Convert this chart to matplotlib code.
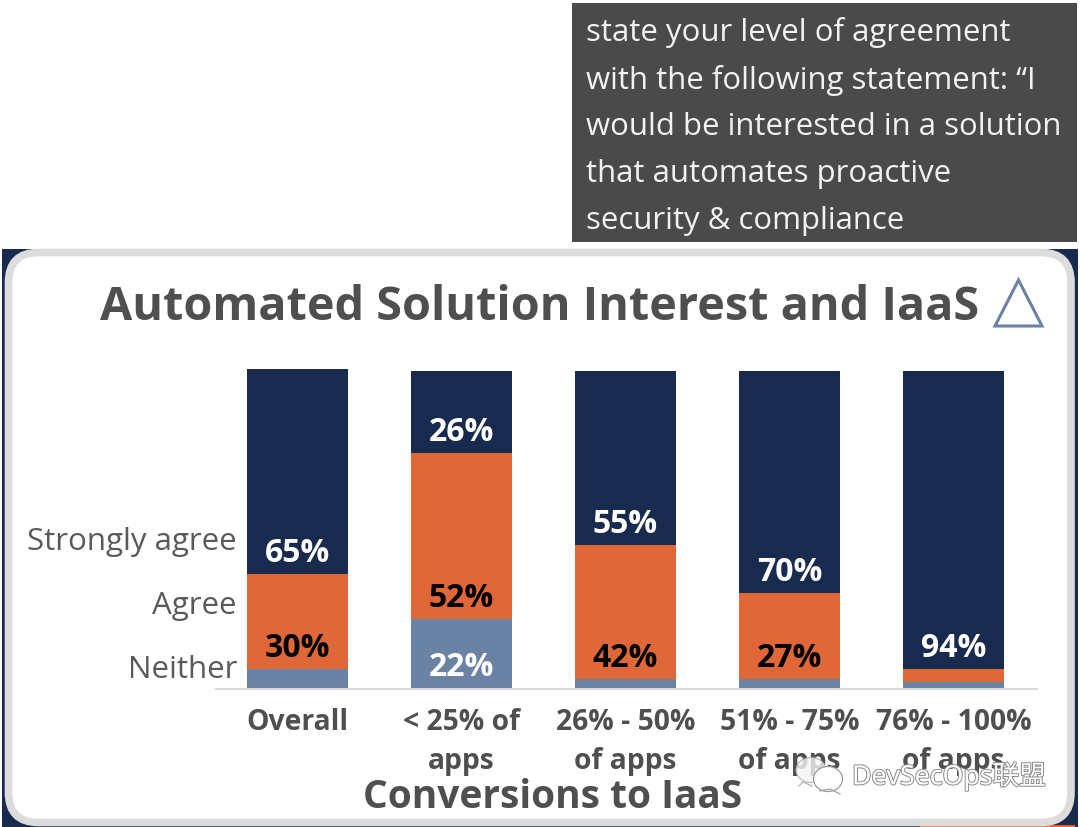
import matplotlib
matplotlib.use('Agg')
import matplotlib.pyplot as plt
import matplotlib.patheffects as pe
from matplotlib.patches import FancyBboxPatch, Rectangle, Polygon, Ellipse

W, H = 1080, 828

categories = ['Overall', '< 25% of\napps', '26% - 50%\nof apps', '51% - 75%\nof apps', '76% - 100%\nof apps']
neither = [6, 22, 3, 3, 2]
agree = [30, 52, 42, 27, 4]
strongly = [64.5, 26, 55, 70, 94]

neither_labels = ['', '22%', '', '', '']
agree_labels = ['30%', '52%', '42%', '27%', '']
strongly_labels = ['65%', '26%', '55%', '70%', '94%']

legend_names = ['Strongly agree', 'Agree', 'Neither']
box_lines = ['state your level of agreement',
             'with the following statement: \u201cI',
             'would be interested in a solution',
             'that automates proactive',
             'security & compliance']

NAVY = '#182a4e'
ORANGE = '#e06838'
SLATE = '#6a82a3'
GREY_TEXT = '#4f4f4f'

plt.rcParams['font.family'] = ['Open Sans', 'DejaVu Sans']

fig = plt.figure(figsize=(W / 100, H / 100), dpi=100)
fig.patch.set_facecolor('white')

# pixel coordinate layer for the frame and free text
bg = fig.add_axes([0, 0, 1, 1], zorder=0)
bg.set_xlim(0, W)
bg.set_ylim(H, 0)
bg.axis('off')

bg.add_patch(Rectangle((572, 4), 505, 239, color='#4a4a4a', lw=0))
for i, line in enumerate(box_lines):
    bg.text(586, 33 + i * 47, line, color='#f2f2f2', fontsize=22.4, va='center', ha='left')

bg.add_patch(Rectangle((2, 250), 1076, 578, color=NAVY, lw=0))
bg.add_patch(Rectangle((920, 826), 155, 2, color=ORANGE, lw=0))
bg.add_patch(FancyBboxPatch((8.5, 253.5), 1062.5, 570, boxstyle='round,pad=0,rounding_size=30',
                            facecolor='white', edgecolor='#dcdcdc', lw=5.5))

bg.text(540, 308, 'Automated Solution Interest and IaaS', color=GREY_TEXT, fontsize=33.7,
        fontweight='bold', ha='center', va='center')
bg.add_patch(Polygon([(995, 327), (1042, 327), (1018.5, 281)], closed=True, fill=False,
                     edgecolor=SLATE, lw=2.2))

for name, y in zip(legend_names, [542, 606, 670]):
    bg.text(237, y, name, color='#5a5a5a', fontsize=22.5, ha='right', va='center')

bg.text(553, 798, 'Conversions to IaaS', color=GREY_TEXT, fontsize=28, fontweight='bold',
        ha='center', va='center')

# chart axes: baseline at y=689 px, 100% at y=371 px
ax = fig.add_axes([215.5 / W, 1 - 689.5 / H, (1037 - 216) / W, 329 / H], zorder=1)
ax.patch.set_alpha(0)
ax.set_xlim(-0.5, 4.506)
ax.set_ylim(0, 329 / 3.18)

x = list(range(len(categories)))
w = 101 / 164
bottoms2 = [a + b for a, b in zip(neither, agree)]
ax.bar(x, neither, w, color=SLATE)
ax.bar(x, agree, w, bottom=neither, color=ORANGE)
ax.bar(x, strongly, w, bottom=bottoms2, color=NAVY)

# value labels sit a fixed distance above the bottom of their segment
offset = (0, 21.5 * 0.72)
for i in x:
    for base, label, col in [(0, neither_labels[i], 'white'),
                             (neither[i], agree_labels[i], 'black'),
                             (bottoms2[i], strongly_labels[i], 'white')]:
        if label:
            ax.annotate(label, (i, base), xytext=offset, textcoords='offset points',
                        ha='center', va='center', color=col, fontsize=23, fontweight='bold')

for s in ['top', 'left', 'right']:
    ax.spines[s].set_visible(False)
ax.spines['bottom'].set_color('#d9d9d9')
ax.spines['bottom'].set_linewidth(1.5)
ax.set_yticks([])
ax.set_xticks(x)
ax.set_xticklabels(categories, fontsize=20.3, fontweight='bold', color=GREY_TEXT, linespacing=1.48)
ax.tick_params(axis='x', length=0, pad=13)

# watermark goes over everything
fg = fig.add_axes([0, 0, 1, 1], zorder=2)
fg.set_xlim(0, W)
fg.set_ylim(H, 0)
fg.axis('off')
fg.patch.set_alpha(0)
outline = [pe.withStroke(linewidth=1.4, foreground='#8a8a8a')]
fg.add_patch(Ellipse((811, 771), 30, 25, facecolor='#f4f4f4', edgecolor='#a8a8a8', lw=0.8, alpha=0.8))
fg.add_patch(Ellipse((828, 780), 29, 25, facecolor='white', edgecolor='#9a9a9a', lw=0.9))
fg.plot([820, 830, 840], [792, 790, 795], color='#9a9a9a', lw=0.8)
fg.plot([799, 803, 812], [787, 783, 787], color='#a8a8a8', lw=0.8)
fg.text(852, 778, 'DevSecOps\u8054\u76df', color='white', fontsize=19.2, ha='left', va='center',
        family=['Noto Sans', 'Noto Sans CJK SC'], path_effects=outline)

fig.savefig('out.png', dpi=100)
